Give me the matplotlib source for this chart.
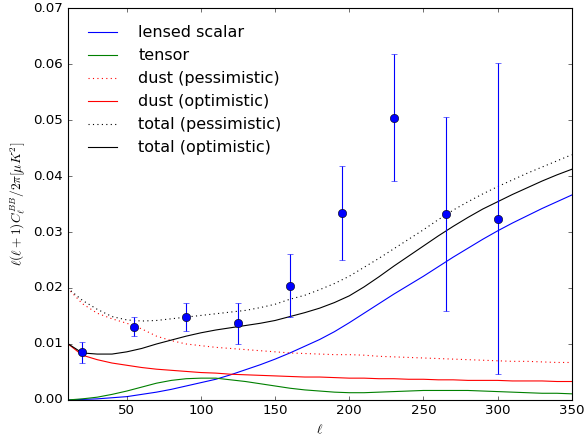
import matplotlib
matplotlib.use('Agg')
import matplotlib.pyplot as plt
from matplotlib.ticker import FormatStrFormatter

plt.style.use('classic')

# multipole grid the curves are sampled on
ell = [10, 20, 30, 40, 50, 60, 70, 80, 90, 100, 110, 120, 130, 140, 150, 160, 170,
       180, 190, 200, 210, 220, 230, 240, 250, 260, 270, 280, 290, 300, 310, 320,
       330, 340, 350]

lensed = [0.0000, 0.0001, 0.0002, 0.0004, 0.0006, 0.0010, 0.0014, 0.0019, 0.0025,
          0.0031, 0.0037, 0.0045, 0.0054, 0.0063, 0.0073, 0.0084, 0.0096, 0.0108,
          0.0122, 0.0138, 0.0155, 0.0172, 0.0189, 0.0205, 0.0221, 0.0238, 0.0255,
          0.0271, 0.0287, 0.0302, 0.0316, 0.0329, 0.0342, 0.0354, 0.0366]

tensor = [0.0000, 0.0002, 0.0005, 0.0010, 0.0016, 0.0023, 0.0030, 0.0035, 0.0038,
          0.0039, 0.0039, 0.0036, 0.0033, 0.0029, 0.0025, 0.0021, 0.0018, 0.0016,
          0.0014, 0.0013, 0.0013, 0.0014, 0.0015, 0.0016, 0.0017, 0.0017, 0.0017,
          0.0017, 0.0016, 0.0015, 0.0014, 0.0013, 0.0012, 0.0012, 0.0011]

dust_pess = [0.0200, 0.0172, 0.0155, 0.0145, 0.0137, 0.0127, 0.0114, 0.0106, 0.0100,
             0.0097, 0.0094, 0.0092, 0.0090, 0.0088, 0.0086, 0.0084, 0.0083, 0.0082,
             0.0081, 0.0081, 0.0080, 0.0078, 0.0077, 0.0076, 0.0075, 0.0074, 0.0073,
             0.0072, 0.0071, 0.0070, 0.0069, 0.0069, 0.0068, 0.0067, 0.0067]

dust_opt = [0.0101, 0.0080, 0.0072, 0.0066, 0.0062, 0.0058, 0.0055, 0.0053, 0.0051,
            0.0049, 0.0048, 0.0046, 0.0045, 0.0044, 0.0043, 0.0042, 0.0041, 0.0041,
            0.0040, 0.0039, 0.0039, 0.0038, 0.0038, 0.0037, 0.0037, 0.0036, 0.0036,
            0.0035, 0.0035, 0.0035, 0.0034, 0.0034, 0.0034, 0.0033, 0.0033]

total_pess = [0.0200, 0.0178, 0.0162, 0.0149, 0.0143, 0.0141, 0.0142, 0.0145, 0.0148,
              0.0151, 0.0154, 0.0157, 0.0160, 0.0165, 0.0171, 0.0180, 0.0187, 0.0197,
              0.0208, 0.0221, 0.0237, 0.0253, 0.0270, 0.0287, 0.0304, 0.0322, 0.0339,
              0.0354, 0.0368, 0.0381, 0.0393, 0.0405, 0.0416, 0.0427, 0.0438]

total_opt = [0.0101, 0.0084, 0.0082, 0.0082, 0.0086, 0.0092, 0.0100, 0.0107, 0.0114,
             0.0120, 0.0125, 0.0129, 0.0133, 0.0137, 0.0142, 0.0149, 0.0156, 0.0164,
             0.0174, 0.0186, 0.0202, 0.0220, 0.0239, 0.0257, 0.0275, 0.0293, 0.0310,
             0.0326, 0.0341, 0.0354, 0.0367, 0.0379, 0.0391, 0.0402, 0.0412]

# binned band powers
bin_ell = [20, 55, 90, 125, 160, 195, 230, 265, 300]
bin_val = [0.0085, 0.0131, 0.0148, 0.0137, 0.0204, 0.0334, 0.0504, 0.0332, 0.0324]
bin_err = [0.0019, 0.0017, 0.0025, 0.0037, 0.0056, 0.0084, 0.0113, 0.0173, 0.0278]

# rendered at 80 dpi so the classic 12pt text comes out at the reference size
fig = plt.figure(figsize=(587 / 80.0, 436 / 80.0), dpi=80, facecolor='white')
ax = fig.add_axes([0.115, 0.0826, 0.859, 0.899])

ax.plot(ell, lensed, 'b-', lw=1, label='lensed scalar')
ax.plot(ell, tensor, 'g-', lw=1, label='tensor')
ax.plot(ell, dust_pess, 'r:', lw=1, label='dust (pessimistic)')
ax.plot(ell, dust_opt, 'r-', lw=1, label='dust (optimistic)')
ax.plot(ell, total_pess, 'k:', lw=1, label='total (pessimistic)')
ax.plot(ell, total_opt, 'k-', lw=1, label='total (optimistic)')

ax.errorbar(bin_ell, bin_val, yerr=bin_err, fmt='o', color='b', mfc='b', mec='k',
            ms=7.5, ecolor='b', elinewidth=1, capsize=3)

ax.set_xlim(10, 350)
ax.set_ylim(0, 0.07)
ax.set_xticks([50, 100, 150, 200, 250, 300, 350])
ax.yaxis.set_major_formatter(FormatStrFormatter('%.2f'))
ax.set_xlabel(r'$\ell$')
ax.set_ylabel(r'$\ell(\ell+1)C_\ell^{BB}/2\pi[\mu K^2]$')

ax.legend(loc='upper left', bbox_to_anchor=(0.028, 0.972), borderaxespad=0,
          frameon=False, handlelength=1.8, handletextpad=1.35, numpoints=1)

fig.savefig('out.png', dpi=80, facecolor='white')
